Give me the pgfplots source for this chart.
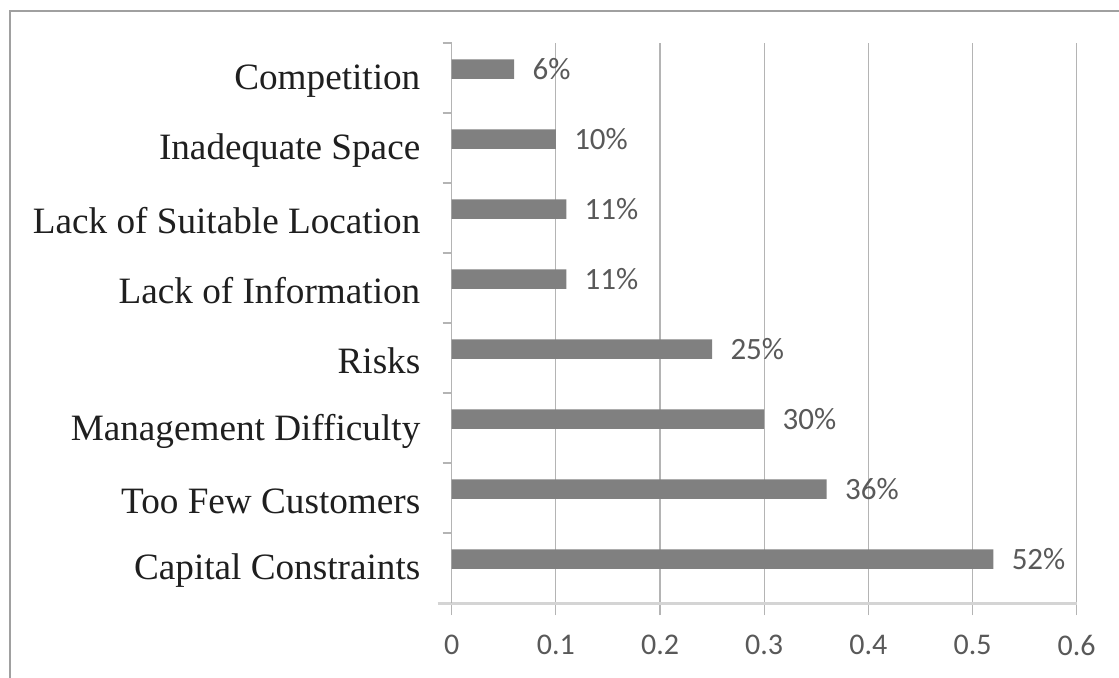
\documentclass[border=0pt]{standalone}
\usepackage{pgfplots}
\pgfplotsset{compat=1.18}
\usepackage{fontspec}
\setmainfont{Liberation Serif}
\newfontfamily\calibri{Carlito}
\definecolor{barc}{HTML}{808080}
\definecolor{gridc}{HTML}{B4B4B4}
\definecolor{xaxisc}{HTML}{D4D4D4}
\definecolor{framec}{HTML}{A0A0A0}
\definecolor{tickc}{HTML}{595959}
\begin{document}
\begin{tikzpicture}
\useasboundingbox (0,0) rectangle (559.5pt,338.5pt);
\fill[white] (0,0) rectangle (559.5pt,338.5pt);
\draw[framec, line width=1pt] (5pt,-20pt) -- (5pt,333pt) -- (600pt,333pt);
\begin{axis}[
  at={(225.85pt,37pt)}, anchor=south west,
  scale only axis, width=312.5pt, height=280pt,
  xmin=0, xmax=0.6, ymin=-0.5, ymax=7.5,
  axis lines=left,
  x axis line style={-, xaxisc, line width=1.5pt, shorten <=-7pt},
  y axis line style={-, gridc, line width=0.6pt},
  xtick={0,0.1,0.2,0.3,0.4,0.5,0.6},
  xticklabels={0,0.1,0.2,0.3,0.4,0.5,0.6},
  ytick={0,1,2,3,4,5,6,7},
  yticklabels={Capital Constraints,Too Few Customers,Management Difficulty,Risks,Lack of Information,Lack of Suitable Location,Inadequate Space,Competition},
  minor ytick={-0.5,0.5,1.5,2.5,3.5,4.5,5.5,6.5,7.5},
  major y tick style={draw=none},
  minor y tick style={gridc, line width=0.6pt},
  major x tick style={gridc, line width=0.6pt},
  tick align=outside,
  major tick length=6pt, minor tick length=4.5pt,
  xmajorgrids, major x grid style={gridc, line width=0.6pt},
  yticklabel style={anchor=east, inner sep=0pt, xshift=-9.5pt, yshift=-1.5pt, font=\fontsize{18.6}{22}\selectfont, text=black!88},
  xticklabel style={anchor=north, inner sep=0pt, yshift=-10pt, font=\calibri\fontsize{15}{18}\selectfont, text=tickc},
  /pgf/number format/assume math mode=true,
  xbar, bar width=9.75pt, bar shift=4.5pt,
  point meta={x*100},
  nodes near coords={\pgfmathprintnumber[fixed,precision=0]{\pgfplotspointmeta}\%},
  nodes near coords style={anchor=west, inner sep=0pt, xshift=9pt, font=\calibri\fontsize{15.5}{18}\selectfont, text=tickc},
  clip=false,
]
\addplot[fill=barc, draw=none] coordinates {
  (0.52,0) (0.36,1) (0.30,2) (0.25,3) (0.11,4) (0.11,5) (0.10,6) (0.06,7)
};
\end{axis}
\end{tikzpicture}
\end{document}
